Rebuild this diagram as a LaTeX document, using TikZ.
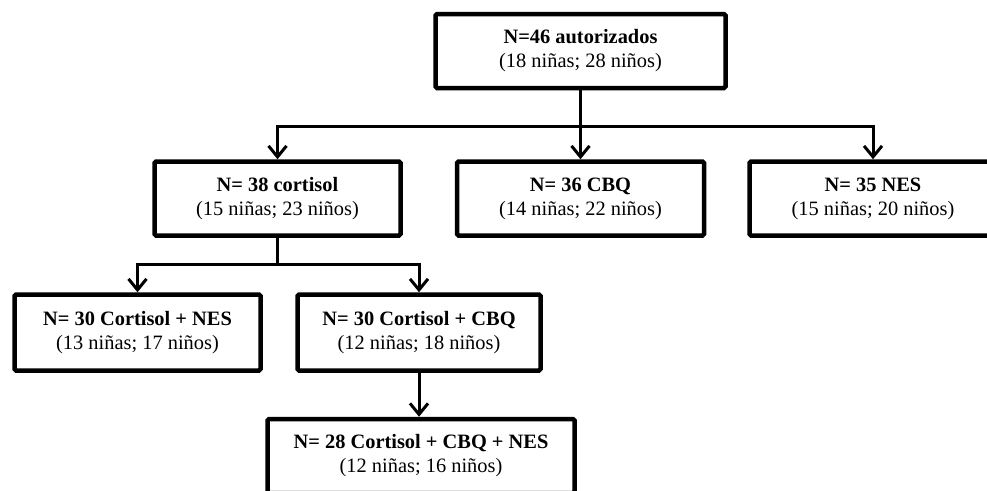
\documentclass[tikz,border=0pt]{standalone}
\usepackage{fontspec}
\setmainfont{Liberation Serif}
\usetikzlibrary{arrows.meta}
\tikzset{
  box/.style={draw=black, line width=4.5pt, rounded corners=1.5pt, fill=white,
    align=center, inner sep=0pt, minimum height=74pt,
    font=\fontsize{20.4pt}{24pt}\selectfont},
  conn/.style={draw=black, line width=3pt},
  arr/.style={conn, -{Straight Barb[length=11pt,width=18pt,line width=3pt]}}
}
\begin{document}
\begin{tikzpicture}[x=1pt,y=-1pt]
\useasboundingbox[fill=white] (0,0) rectangle (987,490);
\node[box, minimum width=290pt] (top) at (580.5,51) {\textbf{N=46 autorizados}\\(18 niñas; 28 niños)};
\node[box, minimum width=246pt] (cort) at (277.5,198.5) {\textbf{N= 38 cortisol}\\(15 niñas; 23 niños)};
\node[box, minimum width=247pt] (cbq) at (580.5,198.5) {\textbf{N= 36 CBQ}\\(14 niñas; 22 niños)};
\node[box, minimum width=247pt] (nes) at (873,198.5) {\textbf{N= 35 NES}\\(15 niñas; 20 niños)};
\node[box, minimum width=246pt, minimum height=76pt] (cnes) at (137.5,332.5) {\textbf{N= 30 Cortisol + NES}\\(13 niñas; 17 niños)};
\node[box, minimum width=243pt, minimum height=76pt] (ccbq) at (419,332.5) {\textbf{N= 30 Cortisol + CBQ}\\(12 niñas; 18 niños)};
\node[box, minimum width=307pt] (all) at (421,456) {\textbf{N= 28 Cortisol + CBQ + NES}\\(12 niñas; 16 niños)};
\draw[arr] (top.south) -- (cbq.north);
\draw[arr] (top.south) -- ++(0,36) -| (cort.north);
\draw[arr] (top.south) -- ++(0,36) -| (nes.north);
\draw[arr] (cort.south) -- ++(0,27) -| (cnes.north);
\draw[arr] (cort.south) -- ++(0,27) -| (ccbq.north);
\draw[arr] (ccbq.south) -- (ccbq.south |- all.north);
\end{tikzpicture}
\end{document}
